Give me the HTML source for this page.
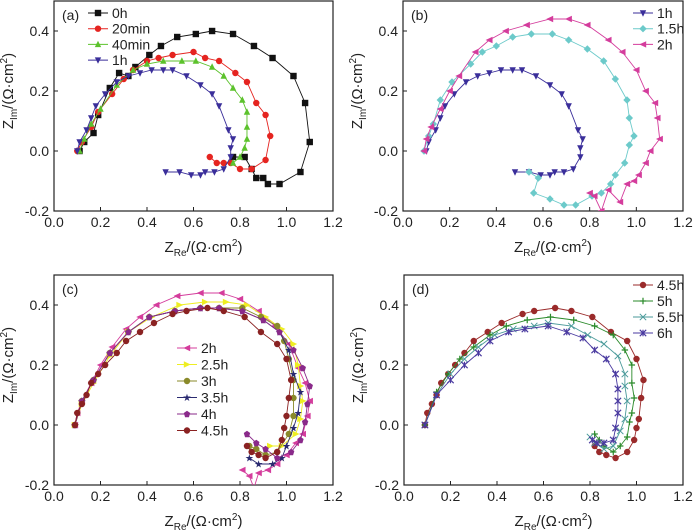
<!DOCTYPE html>
<html><head><meta charset="utf-8"><style>
body{margin:0;background:#fff;}
svg{display:block;font-family:"Liberation Sans",sans-serif;}
</style></head><body>
<svg id="fig" width="700" height="531" viewBox="0 0 700 531"></svg>
<script>
// ---- data (ZRe, ZIm) ----
const a0h=[[0.11,0],[0.13,0.03],[0.17,0.06],[0.19,0.12],[0.24,0.21],[0.28,0.26],[0.32,0.25],[0.35,0.28],[0.41,0.32],[0.46,0.35],[0.53,0.38],[0.61,0.39],[0.68,0.40],[0.77,0.39],[0.86,0.35],[0.94,0.31],[1.03,0.25],[1.08,0.16],[1.10,0.03],[1.06,-0.07],[0.97,-0.11],[0.92,-0.11],[0.90,-0.09],[0.87,-0.09],[0.85,-0.06],[0.82,-0.02],[0.77,-0.02]];
const a20m=[[0.10,0],[0.12,0.03],[0.16,0.08],[0.19,0.13],[0.25,0.19],[0.30,0.24],[0.34,0.27],[0.40,0.30],[0.45,0.31],[0.51,0.32],[0.60,0.33],[0.65,0.31],[0.71,0.30],[0.78,0.26],[0.83,0.23],[0.87,0.16],[0.91,0.12],[0.93,0.05],[0.91,-0.03],[0.85,-0.06],[0.80,-0.06],[0.76,-0.04],[0.73,-0.04],[0.70,-0.04],[0.67,-0.02]];
const a40m=[[0.11,0],[0.13,0.04],[0.16,0.09],[0.20,0.14],[0.27,0.22],[0.34,0.27],[0.40,0.29],[0.47,0.30],[0.55,0.30],[0.61,0.30],[0.68,0.28],[0.73,0.25],[0.77,0.21],[0.81,0.17],[0.83,0.13],[0.83,0.08],[0.83,0.04],[0.82,0.01],[0.80,-0.02],[0.77,-0.04]];
const a1h=[[0.10,0],[0.11,0.03],[0.14,0.07],[0.16,0.11],[0.18,0.15],[0.22,0.19],[0.27,0.23],[0.32,0.25],[0.37,0.26],[0.42,0.27],[0.47,0.27],[0.51,0.27],[0.57,0.25],[0.63,0.22],[0.68,0.19],[0.71,0.15],[0.75,0.07],[0.77,0.04],[0.76,0.01],[0.76,-0.02],[0.73,-0.06],[0.69,-0.07],[0.65,-0.07],[0.63,-0.08],[0.59,-0.08],[0.54,-0.07],[0.48,-0.07]];
const b15h=[[0.09,0],[0.11,0.05],[0.13,0.09],[0.16,0.17],[0.21,0.23],[0.29,0.29],[0.34,0.33],[0.40,0.35],[0.47,0.38],[0.55,0.39],[0.64,0.39],[0.71,0.37],[0.79,0.34],[0.86,0.30],[0.91,0.24],[0.96,0.17],[0.97,0.11],[0.99,0.05],[0.97,0.02],[0.95,-0.04],[0.91,-0.08],[0.89,-0.11],[0.85,-0.14],[0.81,-0.15],[0.74,-0.18],[0.69,-0.18],[0.63,-0.16],[0.56,-0.14],[0.58,-0.09],[0.54,-0.07]];
const b2h=[[0.09,0],[0.10,0.04],[0.12,0.08],[0.16,0.14],[0.20,0.20],[0.24,0.25],[0.31,0.33],[0.37,0.37],[0.44,0.40],[0.53,0.42],[0.63,0.44],[0.71,0.44],[0.79,0.42],[0.88,0.37],[0.94,0.33],[1.00,0.27],[1.04,0.20],[1.08,0.16],[1.09,0.11],[1.10,0.04],[1.06,0],[1.04,-0.04],[1.01,-0.08],[0.99,-0.10],[0.96,-0.11],[0.93,-0.17],[0.88,-0.13],[0.85,-0.20],[0.82,-0.15],[0.80,-0.14]];
const c2h=[[0.09,0],[0.10,0.04],[0.12,0.08],[0.16,0.14],[0.20,0.20],[0.25,0.26],[0.31,0.32],[0.37,0.36],[0.44,0.40],[0.53,0.43],[0.63,0.44],[0.72,0.44],[0.80,0.42],[0.88,0.38],[0.95,0.33],[1.01,0.27],[1.05,0.19],[1.08,0.14],[1.10,0.08],[1.09,0.03],[1.07,-0.03],[1.04,-0.06],[1.00,-0.10],[0.96,-0.13],[0.92,-0.15],[0.88,-0.16],[0.86,-0.21],[0.84,-0.17],[0.81,-0.15]];
const c25h=[[0.09,0],[0.12,0.07],[0.17,0.14],[0.24,0.23],[0.32,0.31],[0.42,0.36],[0.54,0.40],[0.65,0.41],[0.74,0.41],[0.83,0.40],[0.91,0.36],[0.98,0.32],[1.03,0.27],[1.05,0.20],[1.06,0.13],[1.07,0.08],[1.06,0.02],[1.04,-0.03],[0.98,-0.07],[0.93,-0.07]];
const c3h=[[0.09,0],[0.12,0.08],[0.17,0.15],[0.24,0.24],[0.32,0.31],[0.41,0.36],[0.52,0.38],[0.63,0.39],[0.71,0.39],[0.81,0.39],[0.89,0.36],[0.96,0.33],[0.99,0.28],[1.01,0.22],[1.03,0.15],[1.03,0.09],[1.03,0.03],[1.01,-0.03],[0.96,-0.09],[0.91,-0.10],[0.87,-0.08],[0.84,-0.07]];
const c35h=[[0.09,0],[0.12,0.08],[0.17,0.15],[0.24,0.24],[0.32,0.31],[0.41,0.36],[0.52,0.38],[0.63,0.39],[0.71,0.39],[0.81,0.38],[0.90,0.35],[0.97,0.31],[1.01,0.25],[1.03,0.17],[1.06,0.11],[1.05,0.04],[1.03,-0.01],[1.00,-0.07],[0.98,-0.11],[0.94,-0.13],[0.88,-0.13],[0.84,-0.11]];
const c4h=[[0.09,0],[0.12,0.08],[0.17,0.15],[0.24,0.24],[0.32,0.31],[0.41,0.36],[0.52,0.38],[0.63,0.39],[0.71,0.39],[0.81,0.38],[0.90,0.35],[0.97,0.31],[1.03,0.25],[1.07,0.19],[1.10,0.13],[1.09,0.07],[1.08,0.01],[1.06,-0.05],[1.02,-0.09],[0.96,-0.11],[0.91,-0.08],[0.87,-0.06],[0.83,-0.03]];
const c45h=[[0.09,0],[0.10,0.04],[0.12,0.07],[0.14,0.10],[0.16,0.14],[0.19,0.17],[0.22,0.20],[0.27,0.24],[0.31,0.28],[0.37,0.31],[0.43,0.34],[0.51,0.37],[0.57,0.38],[0.66,0.39],[0.73,0.38],[0.82,0.36],[0.89,0.31],[0.96,0.27],[1.00,0.22],[1.02,0.15],[1.01,0.09],[1.00,0.03],[0.99,-0.01],[0.98,-0.05],[0.96,-0.09],[0.91,-0.11],[0.88,-0.10],[0.85,-0.09],[0.83,-0.07]];
const d45h=[[0.09,0],[0.10,0.04],[0.12,0.07],[0.14,0.10],[0.16,0.14],[0.19,0.17],[0.22,0.20],[0.26,0.24],[0.30,0.28],[0.36,0.31],[0.42,0.34],[0.51,0.37],[0.56,0.38],[0.65,0.39],[0.72,0.38],[0.81,0.36],[0.89,0.31],[0.96,0.28],[1.00,0.22],[1.03,0.15],[1.02,0.09],[1.01,0.02],[1.00,-0.01],[0.99,-0.05],[0.96,-0.09],[0.91,-0.11],[0.87,-0.10],[0.84,-0.09],[0.82,-0.07]];
const d5h=[[0.09,0],[0.14,0.11],[0.19,0.17],[0.24,0.22],[0.30,0.26],[0.37,0.30],[0.44,0.33],[0.53,0.35],[0.63,0.36],[0.73,0.35],[0.82,0.33],[0.90,0.30],[0.95,0.25],[0.98,0.20],[0.98,0.14],[0.99,0.09],[0.98,0.04],[0.97,0.01],[0.96,-0.04],[0.93,-0.07],[0.90,-0.09],[0.86,-0.07],[0.84,-0.05],[0.82,-0.03]];
const d55h=[[0.09,0],[0.14,0.10],[0.20,0.17],[0.26,0.22],[0.32,0.26],[0.39,0.30],[0.47,0.32],[0.56,0.33],[0.62,0.34],[0.72,0.33],[0.79,0.30],[0.86,0.27],[0.92,0.23],[0.95,0.17],[0.95,0.13],[0.96,0.08],[0.95,0.02],[0.93,-0.02],[0.90,-0.07],[0.86,-0.08],[0.82,-0.06],[0.80,-0.04]];
const d6h=[[0.09,0],[0.14,0.10],[0.20,0.15],[0.26,0.20],[0.32,0.24],[0.37,0.28],[0.45,0.31],[0.52,0.32],[0.62,0.33],[0.70,0.31],[0.77,0.29],[0.82,0.25],[0.87,0.22],[0.91,0.17],[0.92,0.12],[0.92,0.08],[0.92,0.04],[0.91,-0.01],[0.90,-0.05],[0.86,-0.06],[0.83,-0.06],[0.81,-0.05]];
const xTicks=[0,0.2,0.4,0.6,0.8,1.0,1.2];
const xTickLabels=["0.0","0.2","0.4","0.6","0.8","1.0","1.2"];
const yTicks=[-0.2,0,0.2,0.4];
const yTickLabels=["-0.2","0.0","0.2","0.4"];

const NS="http://www.w3.org/2000/svg";
const svg=document.getElementById('fig');
function mk(tag,attrs,parent){const e=document.createElementNS(NS,tag);for(const k in attrs)e.setAttribute(k,attrs[k]);(parent||svg).appendChild(e);return e;}

function marker(g,shape,x,y,col){
  const s=3.2;let e;
  if(shape==='sq') e=mk('rect',{x:x-s,y:y-s,width:2*s,height:2*s,fill:col},g);
  else if(shape==='ci') e=mk('circle',{cx:x,cy:y,r:s,fill:col},g);
  else if(shape==='up') e=mk('polygon',{points:`${x},${y-s-0.5} ${x-s},${y+s-0.5} ${x+s},${y+s-0.5}`,fill:col},g);
  else if(shape==='dn') e=mk('polygon',{points:`${x},${y+s+0.5} ${x-s},${y-s+0.5} ${x+s},${y-s+0.5}`,fill:col},g);
  else if(shape==='lt') e=mk('polygon',{points:`${x-s-0.5},${y} ${x+s},${y-s} ${x+s},${y+s}`,fill:col},g);
  else if(shape==='rt') e=mk('polygon',{points:`${x+s+0.5},${y} ${x-s},${y-s} ${x-s},${y+s}`,fill:col},g);
  else if(shape==='di') e=mk('polygon',{points:`${x},${y-s-0.5} ${x+s+0.5},${y} ${x},${y+s+0.5} ${x-s-0.5},${y}`,fill:col},g);
  else if(shape==='pe') e=mk('polygon',{points:`${x},${y-s} ${x+s},${y-1} ${x+s*0.6},${y+s} ${x-s*0.6},${y+s} ${x-s},${y-1}`,fill:col},g);
  else if(shape==='st') e=mk('text',{x:x,y:y+3.5,'text-anchor':'middle','font-size':10,fill:col},g),e.textContent='★';
  else if(shape==='pl') e=mk('path',{d:`M${x-s} ${y}H${x+s}M${x} ${y-s}V${y+s}`,stroke:col,'stroke-width':1.2},g);
  else if(shape==='xx') e=mk('path',{d:`M${x-s} ${y-s}L${x+s} ${y+s}M${x-s} ${y+s}L${x+s} ${y-s}`,stroke:col,'stroke-width':1},g);
  else if(shape==='as') e=mk('path',{d:`M${x-s} ${y-s}L${x+s} ${y+s}M${x-s} ${y+s}L${x+s} ${y-s}M${x} ${y-s}V${y+s}`,stroke:col,'stroke-width':1.2},g);
  
  
}

function panel(id,L,T,R,B,label,series,leg){
  const g=mk('g',{});
  
  
  const xs=v=>L+(v-0)/1.2*(R-L);
  const ys=v=>B-(v+0.2)/0.7*(B-T);
  const cp=mk('clipPath',{id:'cp'+id},g);mk('rect',{x:L,y:T,width:R-L,height:B-T},cp);
  const frame=mk('rect',{x:L,y:T,width:R-L,height:B-T,fill:'none',stroke:'#222','stroke-width':1.2},g);
  
  xTicks.forEach((v,i)=>{const x=xs(v);mk('line',{x1:x,x2:x,y1:B,y2:B-4,stroke:'#222'},g);
    const t=mk('text',{x:x,y:B+16,'text-anchor':'middle','font-size':14,fill:'#222'},g);t.textContent=xTickLabels[i];
    });
  yTicks.forEach((v,i)=>{const y=ys(v);mk('line',{x1:L,x2:L+4,y1:y,y2:y,stroke:'#222'},g);
    const t=mk('text',{x:L-5,y:y+5,'text-anchor':'end','font-size':14,fill:'#222'},g);t.textContent=yTickLabels[i];
    });
  const xt=mk('text',{x:(L+R)/2+10,y:B+41,'text-anchor':'middle','font-size':15,fill:'#222'},g);
  xt.innerHTML='Z<tspan font-size="10" dy="4">Re</tspan><tspan dy="-4">/(Ω·cm</tspan><tspan font-size="10" dy="-6">2</tspan><tspan dy="6">)</tspan>';
  
  const cy=(T+B)/2-15, cx=L-41;
  const yt=mk('text',{x:cx,y:cy,'text-anchor':'middle','font-size':15,fill:'#222',transform:`rotate(-90 ${cx} ${cy})`},g);
  yt.innerHTML='Z<tspan font-size="10" dy="4">Im</tspan><tspan dy="-4">/(Ω·cm</tspan><tspan font-size="10" dy="-6">2</tspan><tspan dy="6">)</tspan>';
  
  const pl=mk('text',{x:L+8,y:T+19,'font-size':14,fill:'#222'},g);pl.textContent=label;
  
  const pg=mk('g',{'clip-path':`url(#cp${id})`},g);
  series.forEach(s=>{
    const sg=mk('g',{},pg);
    
    
    mk('polyline',{points:s.data.map(p=>xs(p[0])+','+ys(p[1])).join(' '),fill:'none',stroke:s.col,'stroke-width':0.9},sg);
    s.data.forEach(p=>marker(sg,s.shape,xs(p[0]),ys(p[1]),s.col));
  });
  series.forEach((s,i)=>{
    const lg=mk('g',{},g);
    
    
    const y=leg.y+i*leg.dy;
    mk('line',{x1:leg.x,x2:leg.x+20,y1:y,y2:y,stroke:s.col,'stroke-width':1},lg);
    marker(lg,s.shape,leg.x+10,y,s.col);
    const t=mk('text',{x:leg.x+24,y:y+5,'font-size':14,fill:'#222'},lg);t.textContent=s.name;
  });
}

panel('a',54,1,333,211,'(a)',[
 {name:'0h',data:a0h,col:'#111',shape:'sq'},
 {name:'20min',data:a20m,col:'#e52420',shape:'ci'},
 {name:'40min',data:a40m,col:'#5cc22c',shape:'up'},
 {name:'1h',data:a1h,col:'#3a2e9a',shape:'dn'}],{x:88,y:13,dy:15.7});
panel('b',403,1,683,211,'(b)',[
 {name:'1h',data:a1h,col:'#3a2e9a',shape:'dn'},
 {name:'1.5h',data:b15h,col:'#6ccaca',shape:'di'},
 {name:'2h',data:b2h,col:'#d43c9c',shape:'lt'}],{x:633,y:13,dy:15.7});
panel('c',54,275,333,485,'(c)',[
 {name:'2h',data:c2h,col:'#d43c9c',shape:'lt'},
 {name:'2.5h',data:c25h,col:'#eeee22',shape:'rt'},
 {name:'3h',data:c3h,col:'#8a8a2a',shape:'ci'},
 {name:'3.5h',data:c35h,col:'#2a2a70',shape:'st'},
 {name:'4h',data:c4h,col:'#8a2a8a',shape:'pe'},
 {name:'4.5h',data:c45h,col:'#8a2222',shape:'ci'}],{x:177,y:348,dy:16.5});
panel('d',404,275,683,485,'(d)',[
 {name:'4.5h',data:d45h,col:'#9a2a2a',shape:'ci'},
 {name:'5h',data:d5h,col:'#2a8a2a',shape:'pl'},
 {name:'5.5h',data:d55h,col:'#4a9a9a',shape:'xx'},
 {name:'6h',data:d6h,col:'#4a3aa0',shape:'as'}],{x:633,y:285,dy:16});
</script>
</body></html>
